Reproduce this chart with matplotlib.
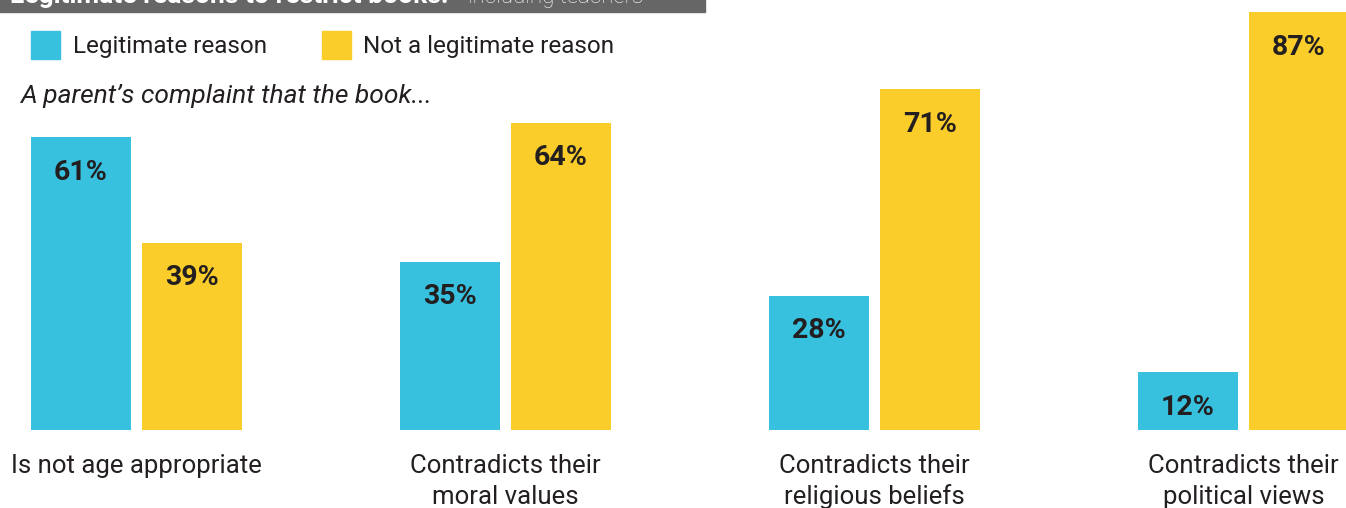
import numpy as np
import matplotlib.pyplot as plt
from matplotlib.patches import Rectangle

categories = ["Is not age appropriate",
              "Contradicts their\nmoral values",
              "Contradicts their\nreligious beliefs",
              "Contradicts their\npolitical views"]
legit = [61, 35, 28, 12]
not_legit = [39, 64, 71, 87]
series_names = ["Legitimate reason", "Not a legitimate reason"]

BLUE = "#38C1DF"
YELLOW = "#FACD2A"
INK = "#231F20"
W, H = 1346, 508

plt.rcParams['font.family'] = ['Roboto', 'DejaVu Sans']

fig = plt.figure(figsize=(W / 100, H / 100), dpi=100)
ax = fig.add_axes([0, 0, 1, 1])
ax.axis("off")

# one x unit = spacing between groups, y in percent with 0 on the baseline
unit = 369.0
px_per_pct = 4.8
base_px = 430.0
ax.set_xlim(-136.5 / unit, (W - 136.5) / unit)
ax.set_ylim((base_px - H) / px_per_pct, base_px / px_per_pct)

bw = 100 / unit
off = 55.5 / unit
x = np.arange(len(categories))

b1 = ax.bar(x - off, legit, width=bw, color=BLUE, linewidth=0)
b2 = ax.bar(x + off, not_legit, width=bw, color=YELLOW, linewidth=0)

for bars, vals in ((b1, legit), (b2, not_legit)):
    for rect, v in zip(bars, vals):
        ax.text(rect.get_x() + rect.get_width() / 2, v - 35 / px_per_pct,
                f"{v}%", ha="center", va="center", fontsize=20.5,
                fontweight="bold", color=INK)

for xi, cat in zip(x, categories):
    lines = cat.split("\n")
    for k, line in enumerate(lines):
        ax.text(xi, (base_px - 466 - 31 * k) / px_per_pct, line,
                ha="center", va="center", fontsize=18.5, color=INK)


def fx(px):
    return px / W


def fy(py):
    return 1 - py / H


# header strip across the top
fig.patches.append(Rectangle((0, fy(12)), fx(705), 12 / H,
                             transform=fig.transFigure, color="#666666",
                             zorder=0))
fig.text(fx(10), fy(3), "Legitimate reasons to restrict books:",
         fontsize=19, fontweight="bold", color="white", va="baseline")
fig.text(fx(468), fy(3), "including teachers", fontsize=16,
         color="white", va="baseline", fontweight="light")

# legend
for sx, tx, col, name in ((31, 73, BLUE, series_names[0]),
                          (322, 363, YELLOW, series_names[1])):
    fig.patches.append(Rectangle((fx(sx), fy(59)), fx(29), 28 / H,
                                 transform=fig.transFigure, color=col))
    fig.text(fx(tx), fy(46), name, fontsize=17.5, color=INK, va="center")

fig.text(fx(20), fy(96), "A parent\u2019s complaint that the book...",
         fontsize=19, color=INK, va="center", style="italic")

fig.savefig("out.png", dpi=100)
